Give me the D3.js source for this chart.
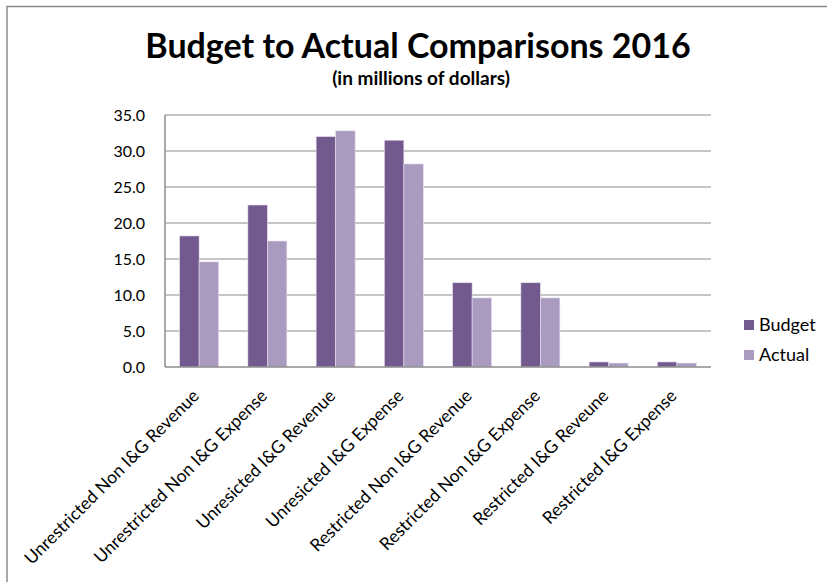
<!DOCTYPE html>
<html>
<head>
<meta charset="utf-8">
<script src="https://cdn.jsdelivr.net/npm/d3@7"></script>
<style>
  body { margin: 0; background: #fff; }
  text { font-family: Lato, "Open Sans", sans-serif; fill: #000; }
</style>
</head>
<body>
<svg id="chart"></svg>
<script>
const width = 827, height = 582;
const budget_color = "#725a8f", actual_color = "#a99bc0", grid_color = "#8c8c8c";

// data
const categories = [
  "Unrestricted Non I&G Revenue",
  "Unrestricted Non I&G Expense",
  "Unresicted I&G Revenue",
  "Unresicted I&G Expense",
  "Restricted Non I&G Revenue",
  "Restricted Non I&G Expense",
  "Restricted I&G Reveune",
  "Restricted I&G Expense"
];
const series = ["Budget", "Actual"];
const budget = [18.2, 22.5, 32.0, 31.5, 11.7, 11.7, 0.7, 0.7];
const actual = [14.6, 17.5, 32.8, 28.2, 9.6, 9.6, 0.55, 0.55];
const yTicks = [0, 5, 10, 15, 20, 25, 30, 35];

const margin = {left: 165, right: 116, top: 115, bottom: 215};

const svg = d3.select("#chart")
  .attr("width", width)
  .attr("height", height);

// outer chart frame (runs off the right and bottom)
svg.append("rect")
  .attr("x", 7).attr("y", 6.5)
  .attr("width", width + 20).attr("height", height + 20)
  .attr("fill", "none")
  .attr("stroke", "#8a8a8a")
  .attr("stroke-width", 1.5);

const x = d3.scaleBand()
  .domain(categories)
  .range([margin.left, width - margin.right])
  .paddingInner(0.4286)
  .paddingOuter(0.2143);

const x1 = d3.scaleBand()
  .domain(series)
  .range([0, x.bandwidth()]);

const y = d3.scaleLinear()
  .domain([0, 35])
  .range([height - margin.bottom, margin.top]);

////////////////////////////////////
//        Gridlines & axes        //
////////////////////////////////////

svg.append("g")
  .selectAll("line")
  .data(yTicks.filter(d => d > 0))
  .join("line")
  .attr("x1", margin.left)
  .attr("x2", width - margin.right)
  .attr("y1", d => y(d))
  .attr("y2", d => y(d))
  .attr("stroke", grid_color)
  .attr("stroke-width", 1.2);

const yAxis = svg.append("g")
  .attr("transform", `translate(${margin.left},0)`)
  .call(d3.axisLeft(y).tickValues(yTicks).tickFormat(d3.format(".1f")).tickSize(0).tickPadding(20));
yAxis.select(".domain").remove();
yAxis.selectAll("text")
  .attr("font-size", "16px")
  .attr("font-family", "Lato, sans-serif")
  .attr("fill", "#000");

////////////////////////////////////
//              Bars              //
////////////////////////////////////

const rows = categories.map((c, i) => ({cat: c, values: [
  {key: "Budget", value: budget[i]},
  {key: "Actual", value: actual[i]}
]}));

svg.append("g")
  .selectAll("g")
  .data(rows)
  .join("g")
  .attr("transform", d => `translate(${x(d.cat)},0)`)
  .selectAll("rect")
  .data(d => d.values)
  .join("rect")
  .attr("x", d => x1(d.key))
  .attr("y", d => y(d.value))
  .attr("width", x1.bandwidth())
  .attr("height", d => y(0) - y(d.value))
  .attr("fill", d => d.key === "Budget" ? budget_color : actual_color)
  .attr("stroke", "#e6e0ee")
  .attr("stroke-width", 0.6);

// axis lines drawn on top
svg.append("line")
  .attr("x1", margin.left).attr("x2", margin.left)
  .attr("y1", margin.top).attr("y2", y(0))
  .attr("stroke", grid_color).attr("stroke-width", 1.5);
svg.append("line")
  .attr("x1", margin.left).attr("x2", width - margin.right)
  .attr("y1", y(0)).attr("y2", y(0))
  .attr("stroke", grid_color).attr("stroke-width", 1.5);

// rotated category labels
svg.append("g")
  .selectAll("text")
  .data(categories)
  .join("text")
  .attr("transform", d => `translate(${x(d) + x.bandwidth() / 2 + 1},${y(0) + 30}) rotate(-45)`)
  .attr("text-anchor", "end")
  .attr("font-size", "17.5px")
  .text(d => d);

////////////////////////////////////
//        Title and legend        //
////////////////////////////////////

svg.append("text")
  .attr("x", 418).attr("y", 58)
  .attr("text-anchor", "middle")
  .attr("font-size", "34px")
  .attr("font-weight", "bold")
  .text("Budget to Actual Comparisons 2016");

svg.append("text")
  .attr("x", 421).attr("y", 85)
  .attr("text-anchor", "middle")
  .attr("font-size", "19px")
  .attr("font-weight", "bold")
  .text("(in millions of dollars)");

const legend = svg.append("g")
  .selectAll("g")
  .data(series)
  .join("g")
  .attr("transform", (d, i) => `translate(744,${320 + i * 30})`);

legend.append("rect")
  .attr("width", 10).attr("height", 10)
  .attr("fill", d => d === "Budget" ? budget_color : actual_color);

legend.append("text")
  .attr("x", 15).attr("y", 11)
  .attr("font-size", "18px")
  .text(d => d);
</script>
</body>
</html>
